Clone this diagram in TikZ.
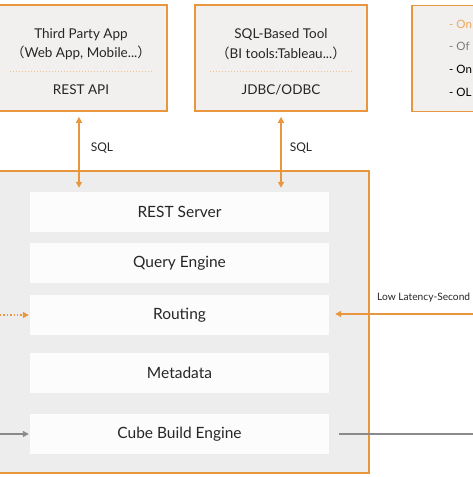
\documentclass[tikz,border=0pt]{standalone}
\usepackage{fontspec}
\setmainfont{Lato}
\newfontfamily\cjk{Noto Sans CJK SC}
\usepackage{xcolor}
\usetikzlibrary{calc}
\usetikzlibrary{arrows.meta}

\definecolor{kyorange}{HTML}{E8973F}
\definecolor{kylight}{HTML}{F0C48C}
\definecolor{kygray}{HTML}{8A8A8A}
\definecolor{kypanel}{HTML}{EEEDED}
\definecolor{kytop}{HTML}{F1F0EF}
\definecolor{kytext}{HTML}{262626}

\begin{document}
\begin{tikzpicture}[x=1pt, y=-1pt,
  topbox/.style={draw=kyorange, line width=1.6pt, fill=kytop, minimum width=172pt, minimum height=106pt, inner sep=0pt},
  layer/.style={fill=white!85!kypanel, minimum width=299pt, minimum height=40pt, inner sep=0pt, text=kytext, font=\fontsize{15.5}{18}\selectfont},
  toptext/.style={text=kytext, font=\fontsize{13.5}{16}\selectfont},
  legend/.style={anchor=west, inner sep=0pt, font=\fontsize{11.5}{14}\selectfont},
  sqlarrow/.style={kyorange, line width=1.4pt, {Triangle[length=6pt,width=6pt]}-{Triangle[length=6pt,width=6pt]}},
  smalllabel/.style={text=kytext, font=\fontsize{12}{14}\selectfont}]

  % Canvas
  \useasboundingbox (0,0) rectangle (473,477);
  \clip (0,0) rectangle (473,477);
  \fill[white] (0,0) rectangle (473,477);

  % Top row of client boxes
  \node[topbox] (app) at (81,58) {};
  \node[topbox] (tool) at (281,58) {};
  \node[topbox] (note) at (498,58.5) {};

  % Texts of the client boxes
  \node[toptext] (appname) at (81,35) {Third Party App};
  \node[toptext] (appkind) at (81,53) {{\cjk （}Web App, Mobile...{\cjk ）}};
  \node[toptext] (appapi) at (81,90) {REST API};
  \draw[kylight, line width=1pt, dotted] (10,71) -- (153,71);

  \node[toptext] (toolname) at (281,35) {SQL-Based Tool};
  \node[toptext] (toolkind) at (281,53) {{\cjk （}BI tools:Tableau...{\cjk ）}};
  \node[toptext] (toolapi) at (281,90) {JDBC/ODBC};
  \draw[kylight, line width=1pt, dotted] (210,71) -- (353,71);

  % Notes box (only the start of each line shows)
  \node[legend, text=kyorange!85!white] (n1) at (449,24) {- On};
  \node[legend, text=kygray!90!black] (n2) at (449,46) {- Of};
  \node[legend, text=black] (n3) at (449,69) {- On};
  \node[legend, text=black] (n4) at (449,92) {- OL};

  % Kylin panel
  \draw[kyorange, line width=1.6pt, fill=kypanel] (-10,171) rectangle (369,473);

  % Layers
  \node[layer] (rest) at (179.5,212) {REST Server};
  \node[layer] (query) at (179.5,263) {Query Engine};
  \node[layer] (route) at (179.5,315) {Routing};
  \node[layer] (meta) at (179.5,373) {Metadata};
  \node[layer] (cube) at (179.5,434) {Cube Build Engine};

  % SQL connections
  \draw[sqlarrow, shorten <=5pt, shorten >=4pt] (app.south -| 79,0) -- (rest.north -| 79,0);
  \draw[sqlarrow, shorten <=5pt, shorten >=4pt] (tool.south) -- (rest.north -| tool.south);
  \node[smalllabel] (sql1) at (102,148) {SQL};
  \node[smalllabel] (sql2) at (301,148) {SQL};

  % Side connections
  \coordinate (rightin) at (473,314);
  \coordinate (leftin) at (0,315);
  \coordinate (leftbuild) at (0,434);
  \coordinate (rightout) at (473,434);
  \draw[kyorange, line width=1.4pt, -{Triangle[length=6pt,width=6pt]}, shorten >=6pt] (rightin) -- (route.east |- rightin);
  \node[anchor=west, inner sep=0pt, text=kytext, font=\fontsize{10.2}{12}\selectfont] (lowlat) at (377,298) {Low Latency-Second};
  \draw[kyorange, line width=1.4pt, dotted, -{Triangle[length=6pt,width=6pt]}, shorten >=1pt] (leftin) -- (route.west);
  \draw[kygray, line width=1.2pt, -{Triangle[length=6pt,width=6pt]}, shorten >=1pt] (leftbuild) -- (cube.west);
  \draw[kygray, line width=1.2pt, shorten <=10pt] (cube.east) -- (rightout);
\end{tikzpicture}
\end{document}
